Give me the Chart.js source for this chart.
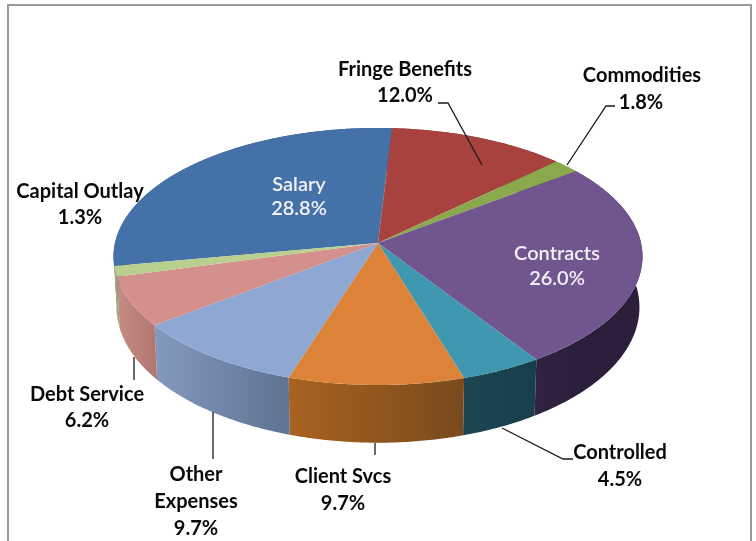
<!DOCTYPE html>
<html><head><meta charset="utf-8">
<style>html,body{margin:0;padding:0;background:#fff}#w{position:relative;width:756px;height:541px;overflow:hidden}canvas{display:block;filter:blur(0.5px)}</style>
<script src="https://cdn.jsdelivr.net/npm/chart.js@4"></script></head>
<body><div id="w"><canvas id="c" width="756" height="541"></canvas></div>
<script>
const categories = ['Salary','Fringe Benefits','Commodities','Contracts','Controlled','Client Svcs','Other Expenses','Debt Service','Capital Outlay'];
const shares = [28.8,12.0,1.8,26.0,4.5,9.7,9.7,6.2,1.3];
const topColors = ['#4571A9','#A8423F','#89A94C','#71558F','#3F97B0','#DD8239','#8FA8D3','#D3908D','#B9CF8E'];
const sideFrom = ['#3A5F8E','#8C3432','#71903C','#30233F','#1C4653','#A9621F','#8399BE','#C68B85','#A9BC7F'];
const sideTo   = ['#2F4E75','#7A2C2A','#64803A','#2C1F3C','#183E4A','#784A1C','#5F7393','#B27770','#98A970'];
const labelLayout = [
  {lines:['Salary'],x:299,y:[185,209],color:'#F2F2F8',weight:'600'},
  {lines:['Fringe Benefits'],x:405,y:[70,96]},
  {lines:['Commodities'],x:642,y:[76,103],valueX:641},
  {lines:['Contracts'],x:557,y:[254,279],color:'#F2F0F6',weight:'600'},
  {lines:['Controlled'],x:620,y:[453,480]},
  {lines:['Client Svcs'],x:343,y:[477,504]},
  {lines:['Other','Expenses'],x:196,y:[475,502,529]},
  {lines:['Debt Service'],x:87,y:[395,421]},
  {lines:['Capital Outlay'],x:80,y:[192,218]}
];
const leaders = [
  [[438,103],[448,103],[482,165]],
  [[615,106],[606,106],[567,165]],
  [[502,428],[563,459],[573,459]],
  [[375,443],[375,455]],
  [[213,412],[213,459]],
  [[134,357],[134,380]]
];
// perspective of the pie's two faces
const P = {cx:378, apexY:243, B:263, A:127.1, k:-0.105, baseY:293, baseA:134, baseB:260};
function topPt(u,v){const d=1+P.k*v;return [P.cx+P.B*u/d,P.apexY+P.A*v/d];}
function basePt(u,v){const d=1+P.k*v;return [P.cx+P.baseB*u/d,P.baseY+P.baseA*v/d];}

const pie3d = {
  id:'pie3d',
  beforeDatasetsDraw(chart){
    const ctx=chart.ctx, arcs=chart.getDatasetMeta(0).data;
    const props=arcs[0].getProps(['x','y','outerRadius']);
    const ex=props.x, ey=props.y, R=props.outerRadius;
    // sides
    arcs.forEach((a,i)=>{
      const s=a.startAngle,e=a.endAngle,n=Math.max(4,Math.ceil((e-s)/0.01));
      const T=[],Bt=[];
      for(let j=0;j<=n;j++){const t=s+(e-s)*j/n,u=Math.cos(t),v=Math.sin(t);T.push(topPt(u,v));Bt.push(basePt(u,v));}
      const x0=T[0][0],x1=T[n][0];
      const g=ctx.createLinearGradient(Math.min(x0,x1),0,Math.max(x0,x1)+0.01,0);
      g.addColorStop(0,sideFrom[i]);g.addColorStop(1,sideTo[i]);
      ctx.beginPath();
      T.forEach((p,j)=>j?ctx.lineTo(p[0],p[1]):ctx.moveTo(p[0],p[1]));
      Bt.reverse().forEach(p=>ctx.lineTo(p[0],p[1]));
      ctx.closePath();ctx.fillStyle=g;ctx.fill();
    });
    // library arcs pass through the perspective projection
    const map=(x,y)=>topPt((x-ex)/R,(y-ey)/R);
    const ml=CanvasRenderingContext2D.prototype.moveTo, ll=CanvasRenderingContext2D.prototype.lineTo;
    ctx.moveTo=(x,y)=>{const p=map(x,y);ml.call(ctx,p[0],p[1]);};
    ctx.lineTo=(x,y)=>{const p=map(x,y);ll.call(ctx,p[0],p[1]);};
    ctx.arc=(x,y,r,a0,a1,ccw)=>{
      const d=ccw?-1:1;let span=(a1-a0)*d;while(span<0)span+=Math.PI*2;
      const n=Math.max(1,Math.ceil(span/0.01));
      for(let j=0;j<=n;j++){const t=a0+d*span*j/n;const p=map(x+r*Math.cos(t),y+r*Math.sin(t));ll.call(ctx,p[0],p[1]);}
    };
  },
  afterDatasetsDraw(chart){
    const ctx=chart.ctx;
    delete ctx.moveTo;delete ctx.lineTo;delete ctx.arc;
    ctx.save();
    ctx.strokeStyle='#1a1a1a';ctx.lineWidth=1.3;
    leaders.forEach(l=>{ctx.beginPath();l.forEach((p,j)=>j?ctx.lineTo(p[0],p[1]):ctx.moveTo(p[0],p[1]));ctx.stroke();});
    ctx.textAlign='center';ctx.textBaseline='middle';
    labelLayout.forEach((L,i)=>{
      ctx.font=(L.weight||'700')+' 20px Lato';
      ctx.fillStyle=L.color||'#0a0a0a';
      L.lines.forEach((t,j)=>ctx.fillText(t,L.x,L.y[j]));
      ctx.fillText(shares[i].toFixed(1)+'%',L.valueX||L.x,L.y[L.lines.length]);
    });
    ctx.restore();
  }
};
const frame = {
  id:'frame',
  beforeDraw(chart){
    const ctx=chart.ctx;ctx.save();
    ctx.fillStyle='#fff';ctx.fillRect(0,0,756,541);
    ctx.strokeStyle='#9a9a9a';ctx.lineWidth=2;
    ctx.beginPath();ctx.moveTo(8,542);ctx.lineTo(8,5);ctx.lineTo(751,5);ctx.lineTo(751,542);ctx.stroke();
    ctx.restore();
  }
};
new Chart(document.getElementById('c'),{
  type:'pie',
  data:{labels:categories,datasets:[{data:shares,backgroundColor:topColors,borderWidth:0}]},
  options:{responsive:false,animation:false,rotation:-100.28,
    layout:{padding:0},
    plugins:{legend:{display:false},tooltip:{enabled:false},title:{display:false}}},
  plugins:[frame,pie3d]
});
</script></body></html>
